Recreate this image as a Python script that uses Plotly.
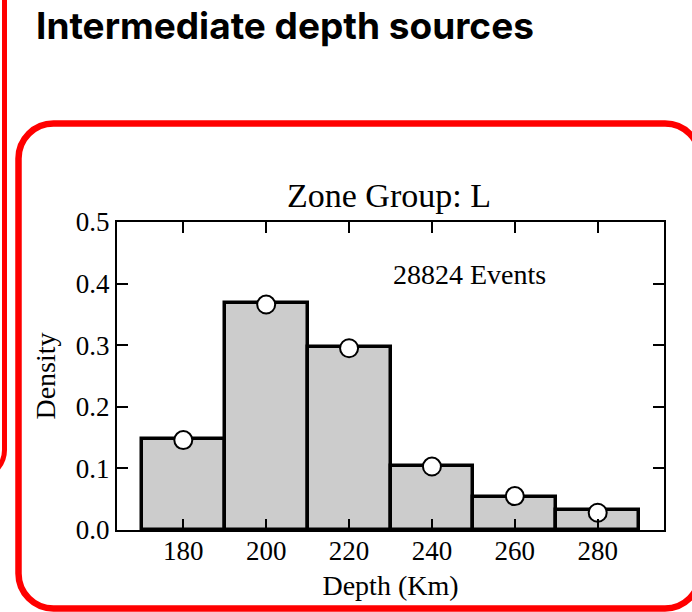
import plotly.graph_objects as go

# ---- data ----
depth_bins = [180, 200, 220, 240, 260, 280]
bin_density = [0.147, 0.368, 0.297, 0.104, 0.054, 0.032]
point_density = [0.146, 0.366, 0.295, 0.103, 0.055, 0.028]
x_ticks = [180, 200, 220, 240, 260, 280]
y_ticks = [0.0, 0.1, 0.2, 0.3, 0.4, 0.5]
y_tick_text = ["0.0", "0.1", "0.2", "0.3", "0.4", "0.5"]
page_title = "Intermediate depth sources"
panel_title = "Zone Group: L"
events_text = "28824 Events"

W, H = 692, 612
L, R, T, B = 117, 664, 222, 530
PW, PH = R - L, B - T


def px(x):
    return (x - L) / PW


def py(y):
    return (B - y) / PH


def rounded_rect(x0, y0, x1, y1, r):
    k = 0.5523 * r
    pts = [
        ("M", [(x0 + r, y0)]),
        ("L", [(x1 - r, y0)]),
        ("C", [(x1 - r + k, y0), (x1, y0 + r - k), (x1, y0 + r)]),
        ("L", [(x1, y1 - r)]),
        ("C", [(x1, y1 - r + k), (x1 - r + k, y1), (x1 - r, y1)]),
        ("L", [(x0 + r, y1)]),
        ("C", [(x0 + r - k, y1), (x0, y1 - r + k), (x0, y1 - r)]),
        ("L", [(x0, y0 + r)]),
        ("C", [(x0, y0 + r - k), (x0 + r - k, y0), (x0 + r, y0)]),
    ]
    s = ""
    for cmd, ps in pts:
        s += cmd + " " + " ".join(f"{px(a):.5f},{py(b):.5f}" for a, b in ps) + " "
    return s + "Z"


serif = "Liberation Serif, Times New Roman, serif"

fig = go.Figure()
fig.add_trace(go.Bar(
    x=depth_bins, y=bin_density, width=20,
    marker=dict(color="#cccccc", line=dict(color="black", width=3.5)),
    showlegend=False, hoverinfo="x+y",
))
fig.add_trace(go.Scatter(
    x=depth_bins, y=point_density, mode="markers",
    marker=dict(size=18, color="white", line=dict(color="black", width=2)),
    showlegend=False, cliponaxis=False,
))

fig.update_layout(
    width=W, height=H,
    margin=dict(l=L, r=W - R, t=T, b=H - B, autoexpand=False),
    paper_bgcolor="white", plot_bgcolor="white",
    bargap=0,
    font=dict(family=serif, size=27, color="black"),
    xaxis=dict(
        range=[164, 296], tickvals=x_ticks, ticks="inside", ticklen=11, tickwidth=2,
        tickcolor="black", showline=True, linewidth=2, linecolor="black", mirror="ticks",
        showgrid=False, zeroline=False, ticklabelstandoff=-4,
        tickfont=dict(family=serif, size=27),
        title=dict(text="Depth (Km)", font=dict(family=serif, size=28), standoff=10),
    ),
    yaxis=dict(
        range=[0, 0.5], tickvals=y_ticks, ticktext=y_tick_text, ticks="inside", ticklen=11,
        tickwidth=2, tickcolor="black", showline=True, linewidth=2, linecolor="black",
        mirror="ticks", showgrid=False, zeroline=False,
        tickfont=dict(family=serif, size=27),
        title=dict(text="Density", font=dict(family=serif, size=28), standoff=12),
    ),
    shapes=[
        dict(type="path", xref="paper", yref="paper", path=rounded_rect(-140, -30, 4.5, 478, 28),
             line=dict(color="#ff0000", width=5), layer="above"),
        dict(type="path", xref="paper", yref="paper", path=rounded_rect(18.5, 123.5, 700, 608.5, 35),
             line=dict(color="#ff0000", width=6.5), layer="above"),
    ],
    annotations=[
        dict(text=f"<b>{page_title}</b>", xref="paper", yref="paper", x=px(34), y=py(26),
             xanchor="left", yanchor="middle", showarrow=False,
             font=dict(family="Inter, Lato, sans-serif", size=37, color="black")),
        dict(text=panel_title, xref="paper", yref="paper", x=px(389), y=py(196),
             xanchor="center", yanchor="middle", showarrow=False,
             font=dict(family=serif, size=34, color="black")),
        dict(text=events_text, xref="paper", yref="paper", x=px(469), y=py(274),
             xanchor="center", yanchor="middle", showarrow=False,
             font=dict(family=serif, size=28, color="black")),
    ],
)

fig.write_html("out.html", config={"displayModeBar": False},
               post_script="document.body.style.margin='0';")
